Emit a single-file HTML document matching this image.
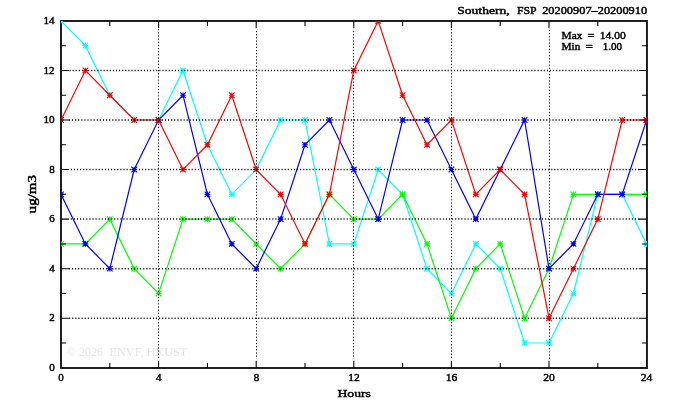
<!DOCTYPE html>
<html><head><meta charset="utf-8"><style>
html,body{margin:0;padding:0;background:#fff;width:674px;height:409px;overflow:hidden;font-family:"Liberation Serif",serif;}
svg{display:block;}
</style></head><body><div style="will-change:transform"><svg width="674" height="409" viewBox="0 0 674 409"><g font-family="Liberation Serif" font-size="13.3" fill="#e4e4e4"><text x="67.3" y="355.8" textLength="8.2" lengthAdjust="spacingAndGlyphs">©</text><text x="78.9" y="355.8" textLength="24.1" lengthAdjust="spacingAndGlyphs">2026</text><text x="109.6" y="355.8" textLength="77.6" lengthAdjust="spacingAndGlyphs">ENVF, HKUST</text></g><defs><clipPath id="c"><rect x="61.0" y="21.0" width="585.95" height="347.0"/></clipPath></defs><rect x="61.0" y="21.0" width="585.95" height="347.0" fill="none" stroke="#151515" stroke-width="1.9"/><g clip-path="url(#c)"><polyline points="61.00,20.88 85.40,45.66 109.80,95.22 134.20,120.00 158.60,120.00 183.00,70.44 207.40,144.78 231.80,194.34 256.20,169.56 280.60,120.00 305.00,120.00 329.40,243.90 353.80,243.90 378.20,169.56 402.60,194.34 427.00,268.68 451.40,293.46 475.80,243.90 500.20,268.68 524.60,343.02 549.00,343.02 573.40,293.46 597.80,194.34 622.20,194.34 646.60,243.90" fill="none" stroke="#00ffff" stroke-width="1.2"/><path d="M58.20 20.88H63.80M61.00 18.08V23.68M58.20 18.08L63.80 23.68M58.20 23.68L63.80 18.08M82.60 45.66H88.20M85.40 42.86V48.46M82.60 42.86L88.20 48.46M82.60 48.46L88.20 42.86M107.00 95.22H112.60M109.80 92.42V98.02M107.00 92.42L112.60 98.02M107.00 98.02L112.60 92.42M131.40 120.00H137.00M134.20 117.20V122.80M131.40 117.20L137.00 122.80M131.40 122.80L137.00 117.20M155.80 120.00H161.40M158.60 117.20V122.80M155.80 117.20L161.40 122.80M155.80 122.80L161.40 117.20M180.20 70.44H185.80M183.00 67.64V73.24M180.20 67.64L185.80 73.24M180.20 73.24L185.80 67.64M204.60 144.78H210.20M207.40 141.98V147.58M204.60 141.98L210.20 147.58M204.60 147.58L210.20 141.98M229.00 194.34H234.60M231.80 191.54V197.14M229.00 191.54L234.60 197.14M229.00 197.14L234.60 191.54M253.40 169.56H259.00M256.20 166.76V172.36M253.40 166.76L259.00 172.36M253.40 172.36L259.00 166.76M277.80 120.00H283.40M280.60 117.20V122.80M277.80 117.20L283.40 122.80M277.80 122.80L283.40 117.20M302.20 120.00H307.80M305.00 117.20V122.80M302.20 117.20L307.80 122.80M302.20 122.80L307.80 117.20M326.60 243.90H332.20M329.40 241.10V246.70M326.60 241.10L332.20 246.70M326.60 246.70L332.20 241.10M351.00 243.90H356.60M353.80 241.10V246.70M351.00 241.10L356.60 246.70M351.00 246.70L356.60 241.10M375.40 169.56H381.00M378.20 166.76V172.36M375.40 166.76L381.00 172.36M375.40 172.36L381.00 166.76M399.80 194.34H405.40M402.60 191.54V197.14M399.80 191.54L405.40 197.14M399.80 197.14L405.40 191.54M424.20 268.68H429.80M427.00 265.88V271.48M424.20 265.88L429.80 271.48M424.20 271.48L429.80 265.88M448.60 293.46H454.20M451.40 290.66V296.26M448.60 290.66L454.20 296.26M448.60 296.26L454.20 290.66M473.00 243.90H478.60M475.80 241.10V246.70M473.00 241.10L478.60 246.70M473.00 246.70L478.60 241.10M497.40 268.68H503.00M500.20 265.88V271.48M497.40 265.88L503.00 271.48M497.40 271.48L503.00 265.88M521.80 343.02H527.40M524.60 340.22V345.82M521.80 340.22L527.40 345.82M521.80 345.82L527.40 340.22M546.20 343.02H551.80M549.00 340.22V345.82M546.20 340.22L551.80 345.82M546.20 345.82L551.80 340.22M570.60 293.46H576.20M573.40 290.66V296.26M570.60 290.66L576.20 296.26M570.60 296.26L576.20 290.66M595.00 194.34H600.60M597.80 191.54V197.14M595.00 191.54L600.60 197.14M595.00 197.14L600.60 191.54M619.40 194.34H625.00M622.20 191.54V197.14M619.40 191.54L625.00 197.14M619.40 197.14L625.00 191.54M643.80 243.90H649.40M646.60 241.10V246.70M643.80 241.10L649.40 246.70M643.80 246.70L649.40 241.10" fill="none" stroke="#00ffff" stroke-width="1.1"/><polyline points="61.00,243.90 85.40,243.90 109.80,219.12 134.20,268.68 158.60,293.46 183.00,219.12 207.40,219.12 231.80,219.12 256.20,243.90 280.60,268.68 305.00,243.90 329.40,194.34 353.80,219.12 378.20,219.12 402.60,194.34 427.00,243.90 451.40,318.24 475.80,268.68 500.20,243.90 524.60,318.24 549.00,268.68 573.40,194.34 597.80,194.34 622.20,194.34 646.60,194.34" fill="none" stroke="#00ff00" stroke-width="1.2"/><path d="M58.20 243.90H63.80M61.00 241.10V246.70M58.20 241.10L63.80 246.70M58.20 246.70L63.80 241.10M82.60 243.90H88.20M85.40 241.10V246.70M82.60 241.10L88.20 246.70M82.60 246.70L88.20 241.10M107.00 219.12H112.60M109.80 216.32V221.92M107.00 216.32L112.60 221.92M107.00 221.92L112.60 216.32M131.40 268.68H137.00M134.20 265.88V271.48M131.40 265.88L137.00 271.48M131.40 271.48L137.00 265.88M155.80 293.46H161.40M158.60 290.66V296.26M155.80 290.66L161.40 296.26M155.80 296.26L161.40 290.66M180.20 219.12H185.80M183.00 216.32V221.92M180.20 216.32L185.80 221.92M180.20 221.92L185.80 216.32M204.60 219.12H210.20M207.40 216.32V221.92M204.60 216.32L210.20 221.92M204.60 221.92L210.20 216.32M229.00 219.12H234.60M231.80 216.32V221.92M229.00 216.32L234.60 221.92M229.00 221.92L234.60 216.32M253.40 243.90H259.00M256.20 241.10V246.70M253.40 241.10L259.00 246.70M253.40 246.70L259.00 241.10M277.80 268.68H283.40M280.60 265.88V271.48M277.80 265.88L283.40 271.48M277.80 271.48L283.40 265.88M302.20 243.90H307.80M305.00 241.10V246.70M302.20 241.10L307.80 246.70M302.20 246.70L307.80 241.10M326.60 194.34H332.20M329.40 191.54V197.14M326.60 191.54L332.20 197.14M326.60 197.14L332.20 191.54M351.00 219.12H356.60M353.80 216.32V221.92M351.00 216.32L356.60 221.92M351.00 221.92L356.60 216.32M375.40 219.12H381.00M378.20 216.32V221.92M375.40 216.32L381.00 221.92M375.40 221.92L381.00 216.32M399.80 194.34H405.40M402.60 191.54V197.14M399.80 191.54L405.40 197.14M399.80 197.14L405.40 191.54M424.20 243.90H429.80M427.00 241.10V246.70M424.20 241.10L429.80 246.70M424.20 246.70L429.80 241.10M448.60 318.24H454.20M451.40 315.44V321.04M448.60 315.44L454.20 321.04M448.60 321.04L454.20 315.44M473.00 268.68H478.60M475.80 265.88V271.48M473.00 265.88L478.60 271.48M473.00 271.48L478.60 265.88M497.40 243.90H503.00M500.20 241.10V246.70M497.40 241.10L503.00 246.70M497.40 246.70L503.00 241.10M521.80 318.24H527.40M524.60 315.44V321.04M521.80 315.44L527.40 321.04M521.80 321.04L527.40 315.44M546.20 268.68H551.80M549.00 265.88V271.48M546.20 265.88L551.80 271.48M546.20 271.48L551.80 265.88M570.60 194.34H576.20M573.40 191.54V197.14M570.60 191.54L576.20 197.14M570.60 197.14L576.20 191.54M595.00 194.34H600.60M597.80 191.54V197.14M595.00 191.54L600.60 197.14M595.00 197.14L600.60 191.54M619.40 194.34H625.00M622.20 191.54V197.14M619.40 191.54L625.00 197.14M619.40 197.14L625.00 191.54M643.80 194.34H649.40M646.60 191.54V197.14M643.80 191.54L649.40 197.14M643.80 197.14L649.40 191.54" fill="none" stroke="#00ff00" stroke-width="1.1"/><polyline points="61.00,194.34 85.40,243.90 109.80,268.68 134.20,169.56 158.60,120.00 183.00,95.22 207.40,194.34 231.80,243.90 256.20,268.68 280.60,219.12 305.00,144.78 329.40,120.00 353.80,169.56 378.20,219.12 402.60,120.00 427.00,120.00 451.40,169.56 475.80,219.12 500.20,169.56 524.60,120.00 549.00,268.68 573.40,243.90 597.80,194.34 622.20,194.34 646.60,120.00" fill="none" stroke="#0000ff" stroke-width="1.2"/><path d="M58.20 194.34H63.80M61.00 191.54V197.14M58.20 191.54L63.80 197.14M58.20 197.14L63.80 191.54M82.60 243.90H88.20M85.40 241.10V246.70M82.60 241.10L88.20 246.70M82.60 246.70L88.20 241.10M107.00 268.68H112.60M109.80 265.88V271.48M107.00 265.88L112.60 271.48M107.00 271.48L112.60 265.88M131.40 169.56H137.00M134.20 166.76V172.36M131.40 166.76L137.00 172.36M131.40 172.36L137.00 166.76M155.80 120.00H161.40M158.60 117.20V122.80M155.80 117.20L161.40 122.80M155.80 122.80L161.40 117.20M180.20 95.22H185.80M183.00 92.42V98.02M180.20 92.42L185.80 98.02M180.20 98.02L185.80 92.42M204.60 194.34H210.20M207.40 191.54V197.14M204.60 191.54L210.20 197.14M204.60 197.14L210.20 191.54M229.00 243.90H234.60M231.80 241.10V246.70M229.00 241.10L234.60 246.70M229.00 246.70L234.60 241.10M253.40 268.68H259.00M256.20 265.88V271.48M253.40 265.88L259.00 271.48M253.40 271.48L259.00 265.88M277.80 219.12H283.40M280.60 216.32V221.92M277.80 216.32L283.40 221.92M277.80 221.92L283.40 216.32M302.20 144.78H307.80M305.00 141.98V147.58M302.20 141.98L307.80 147.58M302.20 147.58L307.80 141.98M326.60 120.00H332.20M329.40 117.20V122.80M326.60 117.20L332.20 122.80M326.60 122.80L332.20 117.20M351.00 169.56H356.60M353.80 166.76V172.36M351.00 166.76L356.60 172.36M351.00 172.36L356.60 166.76M375.40 219.12H381.00M378.20 216.32V221.92M375.40 216.32L381.00 221.92M375.40 221.92L381.00 216.32M399.80 120.00H405.40M402.60 117.20V122.80M399.80 117.20L405.40 122.80M399.80 122.80L405.40 117.20M424.20 120.00H429.80M427.00 117.20V122.80M424.20 117.20L429.80 122.80M424.20 122.80L429.80 117.20M448.60 169.56H454.20M451.40 166.76V172.36M448.60 166.76L454.20 172.36M448.60 172.36L454.20 166.76M473.00 219.12H478.60M475.80 216.32V221.92M473.00 216.32L478.60 221.92M473.00 221.92L478.60 216.32M497.40 169.56H503.00M500.20 166.76V172.36M497.40 166.76L503.00 172.36M497.40 172.36L503.00 166.76M521.80 120.00H527.40M524.60 117.20V122.80M521.80 117.20L527.40 122.80M521.80 122.80L527.40 117.20M546.20 268.68H551.80M549.00 265.88V271.48M546.20 265.88L551.80 271.48M546.20 271.48L551.80 265.88M570.60 243.90H576.20M573.40 241.10V246.70M570.60 241.10L576.20 246.70M570.60 246.70L576.20 241.10M595.00 194.34H600.60M597.80 191.54V197.14M595.00 191.54L600.60 197.14M595.00 197.14L600.60 191.54M619.40 194.34H625.00M622.20 191.54V197.14M619.40 191.54L625.00 197.14M619.40 197.14L625.00 191.54M643.80 120.00H649.40M646.60 117.20V122.80M643.80 117.20L649.40 122.80M643.80 122.80L649.40 117.20" fill="none" stroke="#0000ff" stroke-width="1.1"/><polyline points="61.00,120.00 85.40,70.44 109.80,95.22 134.20,120.00 158.60,120.00 183.00,169.56 207.40,144.78 231.80,95.22 256.20,169.56 280.60,194.34 305.00,243.90 329.40,194.34 353.80,70.44 378.20,20.88 402.60,95.22 427.00,144.78 451.40,120.00 475.80,194.34 500.20,169.56 524.60,194.34 549.00,318.24 573.40,268.68 597.80,219.12 622.20,120.00 646.60,120.00" fill="none" stroke="#ff0000" stroke-width="1.2"/><path d="M58.20 120.00H63.80M61.00 117.20V122.80M58.20 117.20L63.80 122.80M58.20 122.80L63.80 117.20M82.60 70.44H88.20M85.40 67.64V73.24M82.60 67.64L88.20 73.24M82.60 73.24L88.20 67.64M107.00 95.22H112.60M109.80 92.42V98.02M107.00 92.42L112.60 98.02M107.00 98.02L112.60 92.42M131.40 120.00H137.00M134.20 117.20V122.80M131.40 117.20L137.00 122.80M131.40 122.80L137.00 117.20M155.80 120.00H161.40M158.60 117.20V122.80M155.80 117.20L161.40 122.80M155.80 122.80L161.40 117.20M180.20 169.56H185.80M183.00 166.76V172.36M180.20 166.76L185.80 172.36M180.20 172.36L185.80 166.76M204.60 144.78H210.20M207.40 141.98V147.58M204.60 141.98L210.20 147.58M204.60 147.58L210.20 141.98M229.00 95.22H234.60M231.80 92.42V98.02M229.00 92.42L234.60 98.02M229.00 98.02L234.60 92.42M253.40 169.56H259.00M256.20 166.76V172.36M253.40 166.76L259.00 172.36M253.40 172.36L259.00 166.76M277.80 194.34H283.40M280.60 191.54V197.14M277.80 191.54L283.40 197.14M277.80 197.14L283.40 191.54M302.20 243.90H307.80M305.00 241.10V246.70M302.20 241.10L307.80 246.70M302.20 246.70L307.80 241.10M326.60 194.34H332.20M329.40 191.54V197.14M326.60 191.54L332.20 197.14M326.60 197.14L332.20 191.54M351.00 70.44H356.60M353.80 67.64V73.24M351.00 67.64L356.60 73.24M351.00 73.24L356.60 67.64M375.40 20.88H381.00M378.20 18.08V23.68M375.40 18.08L381.00 23.68M375.40 23.68L381.00 18.08M399.80 95.22H405.40M402.60 92.42V98.02M399.80 92.42L405.40 98.02M399.80 98.02L405.40 92.42M424.20 144.78H429.80M427.00 141.98V147.58M424.20 141.98L429.80 147.58M424.20 147.58L429.80 141.98M448.60 120.00H454.20M451.40 117.20V122.80M448.60 117.20L454.20 122.80M448.60 122.80L454.20 117.20M473.00 194.34H478.60M475.80 191.54V197.14M473.00 191.54L478.60 197.14M473.00 197.14L478.60 191.54M497.40 169.56H503.00M500.20 166.76V172.36M497.40 166.76L503.00 172.36M497.40 172.36L503.00 166.76M521.80 194.34H527.40M524.60 191.54V197.14M521.80 191.54L527.40 197.14M521.80 197.14L527.40 191.54M546.20 318.24H551.80M549.00 315.44V321.04M546.20 315.44L551.80 321.04M546.20 321.04L551.80 315.44M570.60 268.68H576.20M573.40 265.88V271.48M570.60 265.88L576.20 271.48M570.60 271.48L576.20 265.88M595.00 219.12H600.60M597.80 216.32V221.92M595.00 216.32L600.60 221.92M595.00 221.92L600.60 216.32M619.40 120.00H625.00M622.20 117.20V122.80M619.40 117.20L625.00 122.80M619.40 122.80L625.00 117.20M643.80 120.00H649.40M646.60 117.20V122.80M643.80 117.20L649.40 122.80M643.80 122.80L649.40 117.20" fill="none" stroke="#ff0000" stroke-width="1.1"/></g><g stroke="#000" stroke-width="1.0" stroke-dasharray="1.15 2.001"><line x1="158.5" y1="29.125" x2="158.5" y2="359"/><line x1="256.5" y1="31.025" x2="256.5" y2="359"/><line x1="353.5" y1="31.025" x2="353.5" y2="359"/><line x1="451.5" y1="29.125" x2="451.5" y2="359"/><line x1="549.5" y1="29.925" x2="549.5" y2="359"/></g><g stroke="#000" stroke-width="1.5" stroke-dasharray="1.05 2.05"><line x1="69.175" y1="318.24" x2="639" y2="318.24"/><line x1="68.875" y1="268.68" x2="639" y2="268.68"/><line x1="70.775" y1="219.12" x2="639" y2="219.12"/><line x1="70.775" y1="169.56" x2="639" y2="169.56"/><line x1="68.875" y1="120.00" x2="639" y2="120.00"/><line x1="69.475" y1="70.44" x2="639" y2="70.44"/></g><path d="M109.8 368.0v-5.0M109.8 21.0v5.0M158.6 368.0v-7.3M158.6 21.0v7.3M207.4 368.0v-5.0M207.4 21.0v5.0M256.2 368.0v-7.3M256.2 21.0v7.3M305.0 368.0v-5.0M305.0 21.0v5.0M353.8 368.0v-7.3M353.8 21.0v7.3M402.6 368.0v-5.0M402.6 21.0v5.0M451.4 368.0v-7.3M451.4 21.0v7.3M500.2 368.0v-5.0M500.2 21.0v5.0M549.0 368.0v-7.3M549.0 21.0v7.3M597.8 368.0v-5.0M597.8 21.0v5.0M61.0 343.02h4.9M646.95 343.02h-4.9M61.0 318.24h8.0M646.95 318.24h-8.0M61.0 293.46h4.9M646.95 293.46h-4.9M61.0 268.68h8.0M646.95 268.68h-8.0M61.0 243.9h4.9M646.95 243.9h-4.9M61.0 219.12h8.0M646.95 219.12h-8.0M61.0 194.34h4.9M646.95 194.34h-4.9M61.0 169.56h8.0M646.95 169.56h-8.0M61.0 144.78h4.9M646.95 144.78h-4.9M61.0 120.0h8.0M646.95 120.0h-8.0M61.0 95.22h4.9M646.95 95.22h-4.9M61.0 70.44h8.0M646.95 70.44h-8.0M61.0 45.66h4.9M646.95 45.66h-4.9" stroke="#000" stroke-width="1.05" fill="none"/><g font-family="Liberation Serif" stroke="#000" stroke-width="0.45" font-size="11" fill="#000"><text x="54.7" y="370.90" text-anchor="end">0</text><text x="54.7" y="321.34" text-anchor="end">2</text><text x="54.7" y="271.78" text-anchor="end">4</text><text x="54.7" y="222.22" text-anchor="end">6</text><text x="54.7" y="172.66" text-anchor="end">8</text><text x="54.7" y="123.10" text-anchor="end" textLength="11.2" lengthAdjust="spacingAndGlyphs">10</text><text x="54.7" y="73.54" text-anchor="end" textLength="11.2" lengthAdjust="spacingAndGlyphs">12</text><text x="54.7" y="23.98" text-anchor="end" textLength="11.2" lengthAdjust="spacingAndGlyphs">14</text><text x="61.0" y="381.0" text-anchor="middle">0</text><text x="158.7" y="381.0" text-anchor="middle">4</text><text x="256.4" y="381.0" text-anchor="middle">8</text><text x="354.1" y="381.0" text-anchor="middle" textLength="11.6" lengthAdjust="spacingAndGlyphs">12</text><text x="451.6" y="381.0" text-anchor="middle" textLength="11.6" lengthAdjust="spacingAndGlyphs">16</text><text x="549.0" y="381.0" text-anchor="middle" textLength="11.6" lengthAdjust="spacingAndGlyphs">20</text><text x="646.5" y="381.0" text-anchor="middle" textLength="11.6" lengthAdjust="spacingAndGlyphs">24</text></g><g font-family="Liberation Serif" stroke="#000" stroke-width="0.45" font-size="11"><text x="457.3" y="13.9" textLength="52.3" lengthAdjust="spacingAndGlyphs">Southern,</text><text x="516.9" y="13.9" textLength="19.6" lengthAdjust="spacingAndGlyphs">FSP</text><text x="542.2" y="13.9" textLength="104.9" lengthAdjust="spacingAndGlyphs">20200907–20200910</text></g><g font-family="Liberation Serif" stroke="#000" stroke-width="0.45" font-size="11"><text x="561.6" y="38.6" textLength="20.70" lengthAdjust="spacingAndGlyphs">Max</text><text x="587.8" y="38.6" textLength="6.70" lengthAdjust="spacingAndGlyphs">=</text><text x="599.7" y="38.6" textLength="26.00" lengthAdjust="spacingAndGlyphs">14.00</text><text x="561.6" y="49.5" textLength="18.80" lengthAdjust="spacingAndGlyphs">Min</text><text x="585.6" y="49.5" textLength="7.40" lengthAdjust="spacingAndGlyphs">=</text><text x="602.7" y="49.5" textLength="19.30" lengthAdjust="spacingAndGlyphs">1.00</text></g><text x="337.5" y="396.8" font-family="Liberation Serif" stroke="#000" stroke-width="0.45" font-size="11.3" textLength="33.4" lengthAdjust="spacingAndGlyphs">Hours</text><text transform="translate(36.2,213.4) rotate(-90)" x="0" y="0" font-family="Liberation Serif" stroke="#000" stroke-width="0.45" font-size="12" textLength="38.5" lengthAdjust="spacingAndGlyphs">ug/m3</text></svg></div></body></html>
